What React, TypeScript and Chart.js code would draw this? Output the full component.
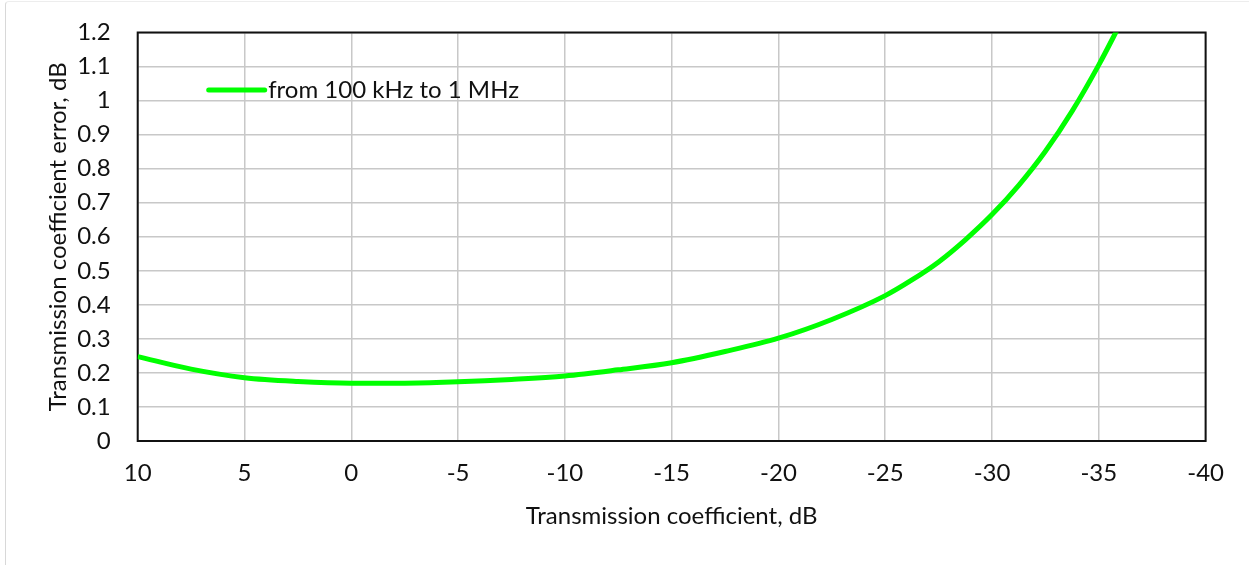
import React, { useEffect, useRef } from "react";
import { Chart, registerables } from "chart.js";

Chart.register(...registerables);

const xValues = [10, 7.5, 5, 2.5, 0, -2.5, -5, -7.5, -10, -12.5, -15, -17.5, -20, -22.5, -25, -26.25, -27.5, -28.75, -30, -31.25, -32.5, -33.75, -35, -36];
const errValues = [0.248, 0.211, 0.186, 0.175, 0.17, 0.17, 0.174, 0.181, 0.191, 0.209, 0.23, 0.263, 0.302, 0.357, 0.427, 0.473, 0.526, 0.591, 0.665, 0.751, 0.851, 0.969, 1.105, 1.225];
const seriesLabel = "from 100 kHz to 1 MHz";
const xTitle = "Transmission coefficient, dB";
const yTitle = "Transmission coefficient error, dB";
const xMin = -40;
const xMax = 10;
const yMin = 0;
const yMax = 1.2;

const FONT = "Lato, 'Noto Sans', sans-serif";
const FS = 24;
const GREEN = "#00ff00";

const boxPlugin = {
  id: "plotBox",
  beforeDatasetsDraw(chart: any) {
    const { left, top, right, bottom } = chart.chartArea;
    const ctx = chart.ctx;
    ctx.save();
    ctx.strokeStyle = "#111111";
    ctx.lineWidth = 2;
    ctx.strokeRect(left, top, right - left, bottom - top);
    ctx.restore();
  },
};

const legendPlugin = {
  id: "insideLegend",
  afterDraw(chart: any) {
    const { left, top } = chart.chartArea;
    const ctx = chart.ctx;
    const ds = chart.data.datasets[0];
    ctx.save();
    ctx.strokeStyle = GREEN;
    ctx.lineWidth = 5;
    ctx.lineCap = "round";
    ctx.beginPath();
    ctx.moveTo(left + 71, top + 57.5);
    ctx.lineTo(left + 127, top + 57.5);
    ctx.stroke();
    ctx.fillStyle = "#111111";
    ctx.font = `${FS}px ${FONT}`;
    ctx.textBaseline = "alphabetic";
    ctx.textAlign = "left";
    ctx.fillText(ds.label, left + 130.5, top + 65.5);
    ctx.restore();
  },
};

export default function App() {
  const ref = useRef<HTMLCanvasElement | null>(null);

  useEffect(() => {
    if (!ref.current) return;
    const points = xValues.map((x, i) => ({ x, y: errValues[i] }));
    const chart = new Chart(ref.current, {
      type: "line",
      data: {
        datasets: [
          {
            label: seriesLabel,
            data: points,
            borderColor: GREEN,
            backgroundColor: GREEN,
            borderWidth: 5,
            pointRadius: 0,
            cubicInterpolationMode: "monotone",
            fill: false,
          },
        ],
      },
      options: {
        responsive: false,
        animation: false,
        layout: { padding: { top: 32.5, right: 43.4, bottom: 30, left: 0 } },
        plugins: {
          legend: { display: false },
          tooltip: { enabled: false },
        },
        scales: {
          x: {
            type: "linear",
            reverse: true,
            min: xMin,
            max: xMax,
            afterFit: (s: any) => {
              s.height = 94;
              s.paddingLeft = 0;
              s.paddingRight = 0;
            },
            grid: { color: "#c8c8c8", lineWidth: 1.5, drawTicks: false },
            border: { display: false },
            ticks: {
              stepSize: 5,
              padding: 18,
              color: "#111111",
              font: { family: FONT, size: FS },
              callback: (v: any) => String(v),
              maxRotation: 0,
            },
            title: {
              display: true,
              text: xTitle,
              color: "#111111",
              font: { family: FONT, size: FS },
              padding: { top: 0, bottom: 4 },
            },
          },
          y: {
            type: "linear",
            min: yMin,
            max: yMax,
            afterFit: (s: any) => {
              s.width = 137.7;
              s.paddingTop = 0;
              s.paddingBottom = 0;
            },
            grid: { color: "#c8c8c8", lineWidth: 1.5, drawTicks: false },
            border: { display: false },
            ticks: {
              stepSize: 0.1,
              padding: 27,
              color: "#111111",
              font: { family: FONT, size: FS },
              callback: (v: any) => String(Math.round(Number(v) * 10) / 10),
            },
            title: {
              display: true,
              text: yTitle,
              color: "#111111",
              font: { family: FONT, size: FS },
              padding: { top: 43.5, bottom: 0 },
            },
          },
        },
      },
      plugins: [boxPlugin, legendPlugin],
    });
    return () => chart.destroy();
  }, []);

  return (
    <div style={{ position: "absolute", left: 0, top: 0, width: 1249, height: 565, background: "#ffffff" }}>
      <div
        style={{
          position: "absolute",
          left: 5,
          top: 1,
          right: 0,
          bottom: 0,
          borderLeft: "1px solid #d8d8d8",
          borderTop: "1px solid #ededed",
          borderTopLeftRadius: 4,
        }}
      />
      <canvas ref={ref} width={1249} height={565} style={{ position: "absolute", left: 0, top: 0, width: 1249, height: 565 }} />
    </div>
  );
}
